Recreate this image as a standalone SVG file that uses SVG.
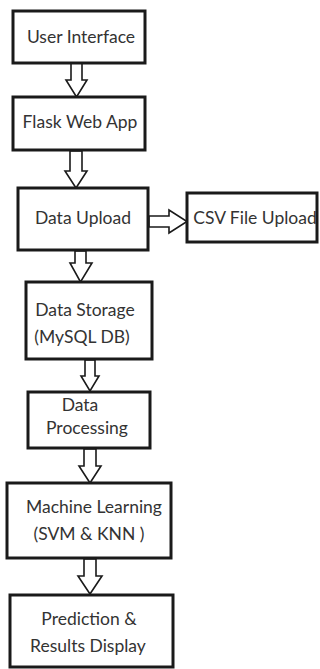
<svg xmlns="http://www.w3.org/2000/svg" width="320" height="669" viewBox="0 0 320 669">
  <style>
    .box { fill: #ffffff; stroke: #1a1a1a; stroke-width: 3; }
    .lbl { font-family: Lato, "Open Sans", "Liberation Sans", sans-serif; font-size: 17.5px; fill: #333333; text-anchor: middle; }
    .arrow { fill: #ffffff; stroke: #1a1a1a; stroke-width: 1.6; stroke-linejoin: miter; }
  </style>
  <rect width="320" height="669" fill="#ffffff"/>

  <!-- block arrows between stages -->
  <g id="connectors">
    <polygon class="arrow" points="71,63 82,63 82,80 87,80 76.5,97 66,80 71,80"/>
    <polygon class="arrow" points="70,151 82,151 82,171 87,171 76,188 65,171 70,171"/>
    <polygon class="arrow" points="75,251 86,251 86,263 92,263 80.5,282 70,263 75,263"/>
    <polygon class="arrow" points="85,360 95,360 95,376 99,376 90,391 81,376 85,376"/>
    <polygon class="arrow" points="84,449 96,449 96,466 101,466 90,483 79,466 84,466"/>
    <polygon class="arrow" points="84,559 96,559 96,576 102,576 90,594 78,576 84,576"/>
    <polygon class="arrow" points="149,216 169,216 169,210 187,221.5 169,233 169,227 149,227"/>
  </g>

  <g id="user-interface">
    <rect class="box" x="13" y="11" width="132" height="52"/>
    <text class="lbl" x="81" y="43">User Interface</text>
  </g>

  <g id="flask-web-app">
    <rect class="box" x="13" y="97" width="132" height="53"/>
    <text class="lbl" x="80" y="128">Flask Web App</text>
  </g>

  <g id="data-upload">
    <rect class="box" x="18" y="188" width="130" height="62"/>
    <text class="lbl" x="83" y="224">Data Upload</text>
  </g>

  <g id="csv-file-upload">
    <rect class="box" x="187" y="193" width="130" height="49"/>
    <text class="lbl" x="255" y="224">CSV File Upload</text>
  </g>

  <g id="data-storage">
    <rect class="box" x="26" y="282" width="126" height="77"/>
    <text class="lbl" x="85" y="316">Data Storage</text>
    <text class="lbl" x="82" y="343">(MySQL DB)</text>
  </g>

  <g id="data-processing">
    <rect class="box" x="28" y="392" width="122" height="56"/>
    <text class="lbl" x="80" y="411">Data</text>
    <text class="lbl" x="87" y="434">Processing</text>
  </g>

  <g id="machine-learning">
    <rect class="box" x="7" y="483" width="164" height="75"/>
    <text class="lbl" x="94" y="513">Machine Learning</text>
    <text class="lbl" x="89" y="540">(SVM &amp; KNN )</text>
  </g>

  <g id="prediction-results">
    <rect class="box" x="10" y="595" width="163" height="72"/>
    <text class="lbl" x="89" y="625">Prediction &amp;</text>
    <text class="lbl" x="88" y="652">Results Display</text>
  </g>
</svg>
